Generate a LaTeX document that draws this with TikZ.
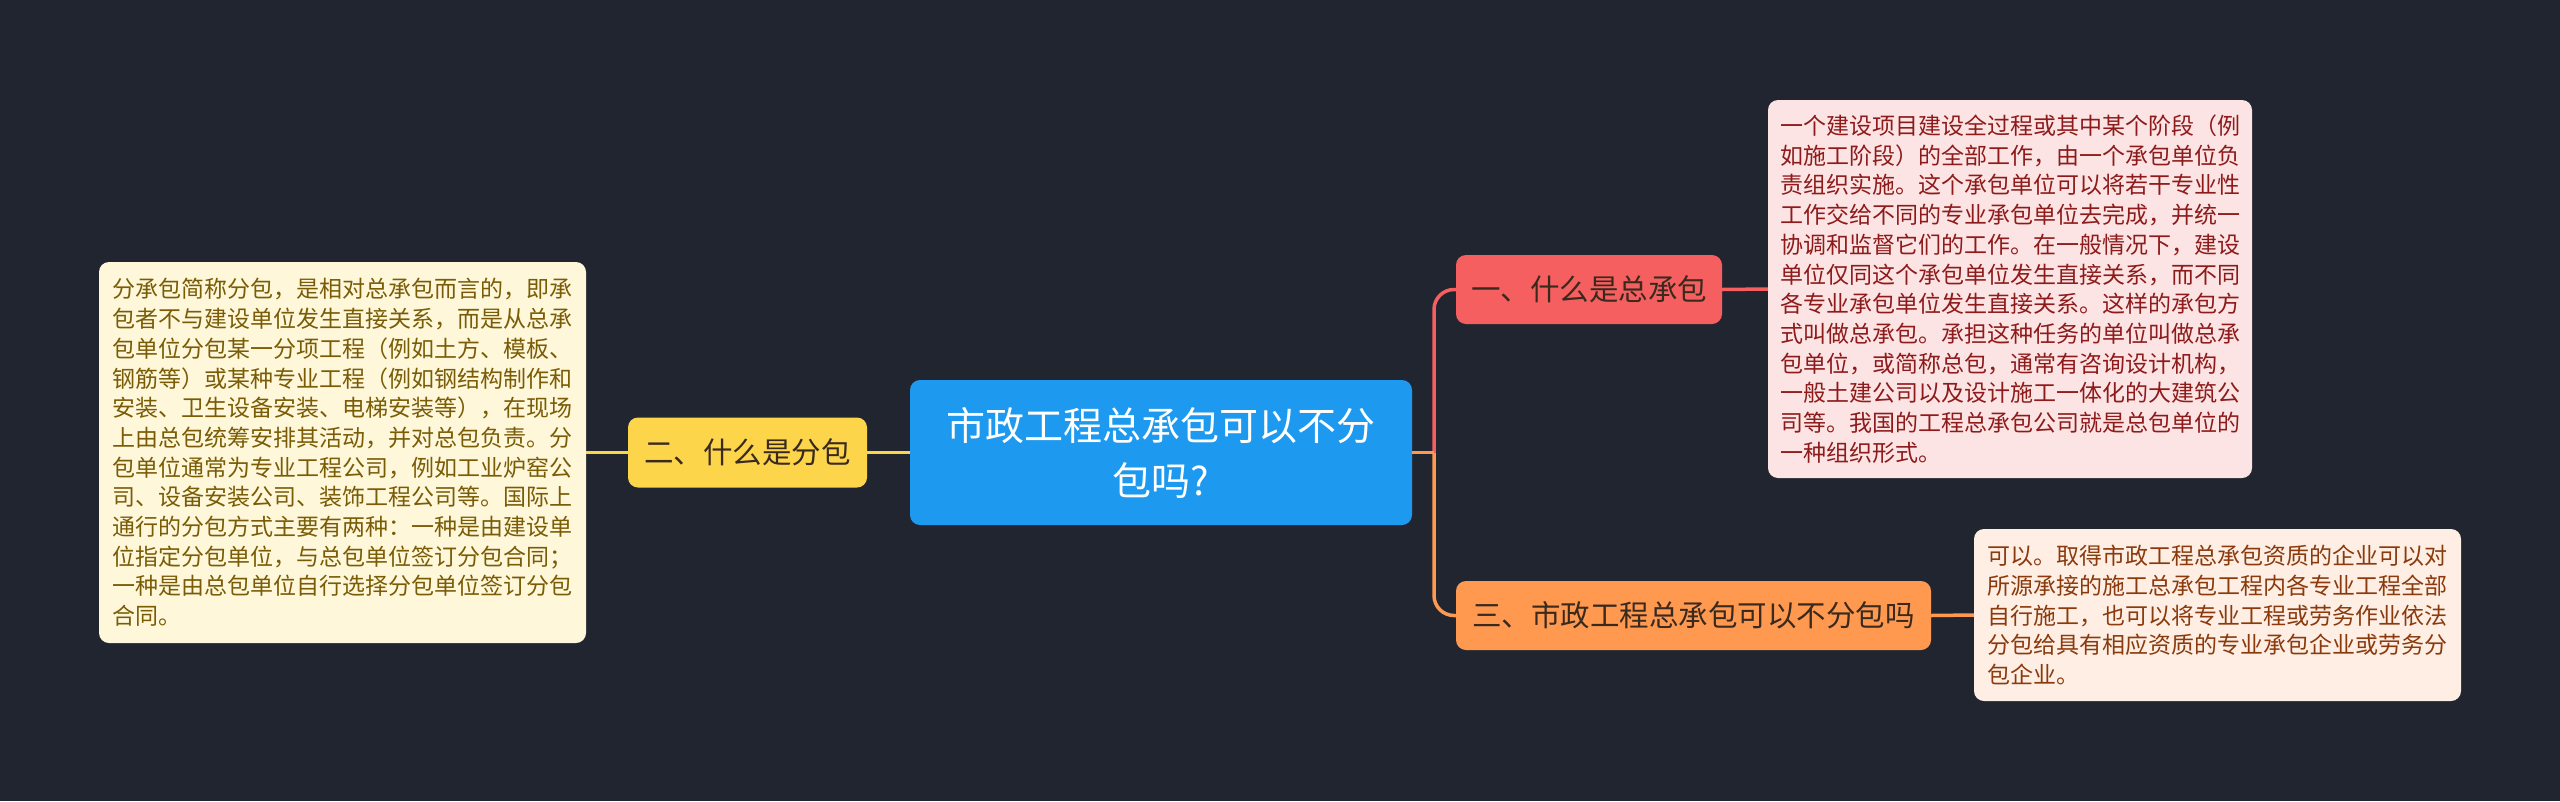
\documentclass[tikz,border=0pt]{standalone}
\usepackage{fontspec}
\setmainfont{Noto Sans CJK SC}
\begin{document}
\begin{tikzpicture}[x=1pt,y=-1pt,
  box/.style={rounded corners=10pt, inner sep=0pt, align=left},
  topic/.style={box, fill=c_blue, text=white, align=center, font=\fontsize{39}{55}\selectfont},
  branch/.style={box, align=center, font=\fontsize{29.5}{35}\selectfont},
  leaf/.style={box, font=\fontsize{23}{29.7}\selectfont},
  conn/.style={line width=3.5pt},
]
\definecolor{c_bg}{HTML}{21252F}
\definecolor{c_blue}{HTML}{1D99EF}
\definecolor{c_red}{HTML}{F55F5F}
\definecolor{c_yel}{HTML}{FDD54B}
\definecolor{c_org}{HTML}{FF9950}
\definecolor{c_lfill}{HTML}{FEF7DA}
\definecolor{c_ltext}{HTML}{7A5C06}
\definecolor{c_rfill}{HTML}{FDE4E4}
\definecolor{c_rtext}{HTML}{8E1B1B}
\definecolor{c_ofill}{HTML}{FEEEE4}
\definecolor{c_otext}{HTML}{8A3A0C}
\definecolor{c_dark}{HTML}{3A2A1E}

\fill[c_bg] (0,0) rectangle (2560,801);
\useasboundingbox (0,0) rectangle (2560,801);

\node[topic, minimum width=502pt, minimum height=145pt] (c) at (1161,452.5)
  {市政工程总承包可以不分\\包吗?};

\node[branch, fill=c_yel, text=c_dark, minimum width=239pt, minimum height=70pt] (n2) at (747.5,452.5) {二、什么是分包};
\node[branch, fill=c_red, text=c_dark, minimum width=266pt, minimum height=69pt] (n1) at (1589,289.5) {一、什么是总承包};
\node[branch, fill=c_org, text=c_dark, minimum width=475pt, minimum height=69pt] (n3) at (1693.5,615.5) {三、市政工程总承包可以不分包吗};

\node[leaf, fill=c_lfill, text=c_ltext, minimum width=487pt, minimum height=381pt] (lb) at (342.5,452.5)
{分承包简称分包，是相对总承包而言的，即承\\
包者不与建设单位发生直接关系，而是从总承\\
包单位分包某一分项工程（例如土方、模板、\\
钢筋等）或某种专业工程（例如钢结构制作和\\
安装、卫生设备安装、电梯安装等），在现场\\
上由总包统筹安排其活动，并对总包负责。分\\
包单位通常为专业工程公司，例如工业炉窑公\\
司、设备安装公司、装饰工程公司等。国际上\\
通行的分包方式主要有两种：一种是由建设单\\
位指定分包单位，与总包单位签订分包合同；\\
一种是由总包单位自行选择分包单位签订分包\\
合同。};

\node[leaf, fill=c_rfill, text=c_rtext, minimum width=484pt, minimum height=378pt] (rb1) at (2010,289)
{一个建设项目建设全过程或其中某个阶段（例\\
如施工阶段）的全部工作，由一个承包单位负\\
责组织实施。这个承包单位可以将若干专业性\\
工作交给不同的专业承包单位去完成，并统一\\
协调和监督它们的工作。在一般情况下，建设\\
单位仅同这个承包单位发生直接关系，而不同\\
各专业承包单位发生直接关系。这样的承包方\\
式叫做总承包。承担这种任务的单位叫做总承\\
包单位，或简称总包，通常有咨询设计机构，\\
一般土建公司以及设计施工一体化的大建筑公\\
司等。我国的工程总承包公司就是总包单位的\\
一种组织形式。};

\node[leaf, fill=c_ofill, text=c_otext, minimum width=487pt, minimum height=172pt] (rb3) at (2217.5,615)
{可以。取得市政工程总承包资质的企业可以对\\
所源承接的施工总承包工程内各专业工程全部\\
自行施工，也可以将专业工程或劳务作业依法\\
分包给具有相应资质的专业承包企业或劳务分\\
包企业。};

\coordinate (tr) at (1434,452.5);
\draw[conn, c_red, rounded corners=20pt] (tr) |- (n1.west);
\draw[conn, c_org, rounded corners=20pt] (tr) |- (n3.west);
\draw[conn, c_org] (c.east) -- (tr);
\draw[conn, c_yel] (c.west) -- (n2.east);
\draw[conn, c_yel] (n2.west) -- (lb.east);
\draw[conn, c_red] (n1.east) -- (rb1.west);
\draw[conn, c_org] (n3.east) -- (rb3.west);
\end{tikzpicture}
\end{document}
